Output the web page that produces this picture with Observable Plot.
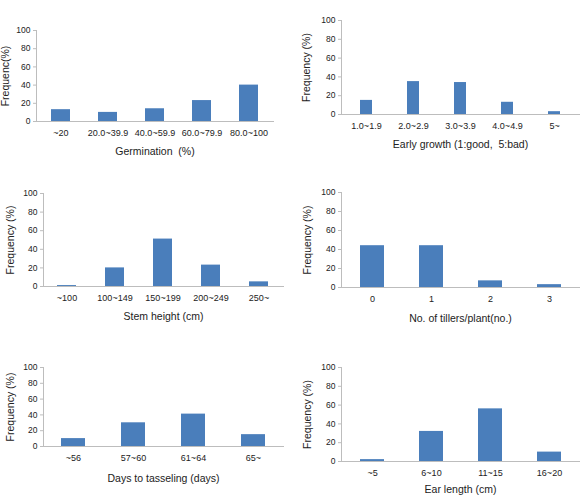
<!DOCTYPE html>
<html>
<head>
<meta charset="utf-8">
<script src="https://cdn.jsdelivr.net/npm/d3@7"></script>
<script src="https://cdn.jsdelivr.net/npm/@observablehq/plot@0.6"></script>
<style>
  html, body { margin: 0; padding: 0; background: #fff; }
  #wrap { position: relative; width: 585px; height: 496px; overflow: hidden; }
  .panel { position: absolute; }
  .panel svg { overflow: visible; }
</style>
</head>
<body>
<div id="wrap"></div>
<script>
// ---- data ----
const germCats = ["~20", "20.0~39.9", "40.0~59.9", "60.0~79.9", "80.0~100"];
const germVals = [13, 10, 14, 23, 40];

const earlyCats = ["1.0~1.9", "2.0~2.9", "3.0~3.9", "4.0~4.9", "5~"];
const earlyVals = [15, 35, 34, 13, 3];

const stemCats = ["~100", "100~149", "150~199", "200~249", "250~"];
const stemVals = [1, 20, 51, 23, 5];

const tillerCats = ["0", "1", "2", "3"];
const tillerVals = [44, 44, 7, 3];

const tasselCats = ["~56", "57~60", "61~64", "65~"];
const tasselVals = [10, 30, 41, 15];

const earCats = ["~5", "6~10", "11~15", "16~20"];
const earVals = [2, 32, 56, 10];

const yTicks = [0, 20, 40, 60, 80, 100];

const panels = [
  {cats: germCats, vals: germVals, xlabel: "Germination  (%)", ylabel: "Frequenc(%)",
   left: 0, top: 20, width: 292, height: 150, m: [10, 19, 49, 36], pad: 0.6, ly: 34.5, lx: 33},
  {cats: earlyCats, vals: earlyVals, xlabel: "Early growth (1:good,  5:bad)", ylabel: "Frequency (%)",
   left: 292, top: 10, width: 293, height: 150, m: [10, 6, 46, 49], pad: 0.75, ly: 39, lx: 33},
  {cats: stemCats, vals: stemVals, xlabel: "Stem height (cm)", ylabel: "Frequency (%)",
   left: 0, top: 185, width: 292, height: 150, m: [8, 9, 49, 43], pad: 0.6, ly: 37, lx: 33},
  {cats: tillerCats, vals: tillerVals, xlabel: "No. of tillers/plant(no.)", ylabel: "Frequency (%)",
   left: 292, top: 185, width: 293, height: 150, m: [7, 6, 48, 49], pad: 0.6, ly: 38, lx: 34},
  {cats: tasselCats, vals: tasselVals, xlabel: "Days to tasseling (days)", ylabel: "Frequency (%)",
   left: 0, top: 355, width: 292, height: 141, m: [12, 9, 50, 43], pad: 0.6, ly: 37, lx: 35},
  {cats: earCats, vals: earVals, xlabel: "Ear length (cm)", ylabel: "Frequency (%)",
   left: 292, top: 355, width: 293, height: 141, m: [12, 6, 35, 49], pad: 0.6, ly: 38, lx: 31}
];

const FONT = "'Liberation Sans', Arial, sans-serif";
const AXIS = "#bdbdbd";
const BAR = "#4a7ebb";

const wrap = document.getElementById("wrap");
for (const p of panels) {
  const data = p.cats.map((c, i) => ({cat: c, value: p.vals[i]}));
  const chart = Plot.plot({
    width: p.width,
    height: p.height,
    marginTop: p.m[0], marginRight: p.m[1], marginBottom: p.m[2], marginLeft: p.m[3],
    style: {fontFamily: FONT, background: "transparent", overflow: "visible", color: "#222"},
    x: {domain: p.cats, paddingInner: p.pad, paddingOuter: p.pad / 2, label: null},
    y: {domain: [0, 100], label: null},
    marks: [
      Plot.barY(data, {x: "cat", y: "value", fill: BAR}),
      Plot.frame({anchor: "left", stroke: AXIS}),
      Plot.frame({anchor: "bottom", stroke: AXIS}),
      Plot.axisX({tickSize: 0, tickPadding: 8.5, fontSize: 9, fill: "#222", label: null}),
      Plot.axisX({ticks: [], tickSize: 0, fontSize: 10.5, fill: "#222", label: p.xlabel,
                  labelAnchor: "center", labelOffset: p.lx, labelArrow: "none"}),
      Plot.axisY({ticks: yTicks, tickSize: 3, tickPadding: 3, stroke: AXIS, fill: "#222", fontSize: 8.5, label: null}),
      Plot.axisY({ticks: [], tickSize: 0, fontSize: 10.5, fill: "#222", label: p.ylabel,
                  labelAnchor: "center", labelOffset: p.ly, labelArrow: "none"})
    ]
  });
  const div = document.createElement("div");
  div.className = "panel";
  div.style.left = p.left + "px";
  div.style.top = p.top + "px";
  div.appendChild(chart);
  wrap.appendChild(div);
}
</script>
</body>
</html>
